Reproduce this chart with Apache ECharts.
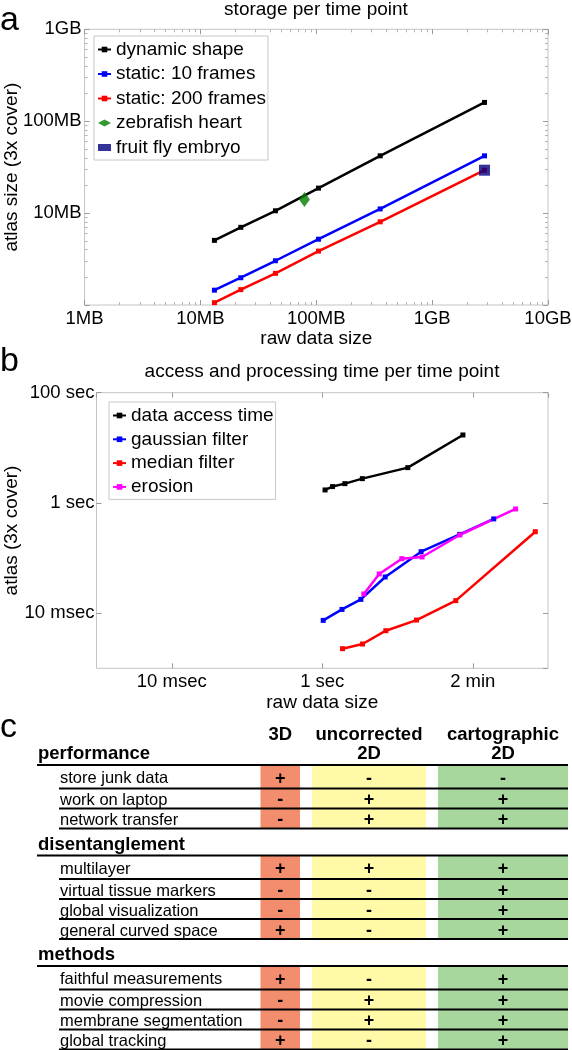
<!DOCTYPE html>
<html><head><meta charset="utf-8">
<script src="https://cdn.jsdelivr.net/npm/echarts@6/dist/echarts.min.js"></script>
<style>html,body{margin:0;padding:0;background:#fff}#c{width:572px;height:1050px}</style>
</head><body><div id="c"></div>
<script>
// ---------- Panel a: storage per time point (MB) ----------
const aSeriesNames = ['dynamic shape', 'static: 10 frames', 'static: 200 frames', 'zebrafish heart', 'fruit fly embryo'];
const aRawSize   = [13.2, 22.3, 44.4, 104.5, 356, 2830];
const aDynamic   = [5.05, 7.0, 10.6, 18.7, 42, 160];
const aStatic10  = [1.45, 1.98, 3.03, 5.2, 11.1, 42];
const aStatic200 = [1.06, 1.47, 2.21, 3.86, 8.04, 29.3];
const zebrafishHeart = [79, 14.1];
const fruitFlyEmbryo = [2830, 29.3];
const aXTickLabels = ['1MB', '10MB', '100MB', '1GB', '10GB'];
const aYTickLabels = ['1MB', '10MB', '100MB', '1GB'];

// ---------- Panel b: access and processing time per time point (sec) ----------
const bSeriesNames = ['data access time', 'gaussian filter', 'median filter', 'erosion'];
const bAccessX  = [1.09, 1.37, 2.0, 3.41, 13.7, 74];
const bAccessY  = [1.72, 1.98, 2.24, 2.76, 4.37, 17.1];
const bGaussX   = [1.03, 1.83, 3.26, 6.86, 20.6, 67, 190];
const bGaussY   = [0.0074, 0.0117, 0.0178, 0.0454, 0.1306, 0.269, 0.513];
const bMedianX  = [1.86, 3.43, 7.0, 17.9, 59.5, 678];
const bMedianY  = [0.00227, 0.00276, 0.00481, 0.0075, 0.0169, 0.301];
const bErosionX = [3.57, 5.71, 11.4, 21.2, 67, 371];
const bErosionY = [0.0223, 0.0515, 0.0975, 0.1047, 0.262, 0.778];
const bXTickLabels = ['10 msec', '1 sec', '2 min'];   // 0.01, 1, 100
const bYTickLabels = ['10 msec', '1 sec', '100 sec']; // 0.01, 1, 100

// ---------- Panel c: comparison table ----------
const tableColumns = ['3D', 'uncorrected\n2D', 'cartographic\n2D'];
const tableGroups = ['performance', 'disentanglement', 'methods'];
const tableRows = [
  ['store junk data', 'work on laptop', 'network transfer'],
  ['multilayer', 'virtual tissue markers', 'global visualization', 'general curved space'],
  ['faithful measurements', 'movie compression', 'membrane segmentation', 'global tracking']
];
const mark3D           = ['+', '-', '-',  '+', '-', '-', '+',  '+', '-', '-', '+'];
const markUncorrected  = ['-', '+', '+',  '+', '-', '-', '-',  '-', '+', '+', '-'];
const markCartographic = ['-', '+', '+',  '+', '+', '+', '+',  '+', '+', '+', '+'];

// ---------- helpers / styling ----------
const FONT = '"Liberation Sans", Arial, Helvetica, sans-serif';
const zip = (xs, ys) => xs.map((x, i) => [x, ys[i]]);
const decLabel = (labels, offset, step) => v => {
  const e = Math.round(Math.log10(v));
  const k = (e + offset) / step;
  return (Number.isInteger(k) && labels[k] !== undefined && Math.abs(Math.log10(v) - e) < 1e-6) ? labels[k] : '';
};
const BORDER = '#c4c4c4';
const TICK = '#9a9a9a';

function logAxis(extra) {
  return Object.assign({
    type: 'log',
    axisLine: { show: false },
    axisTick: { show: true, inside: true, length: 5, lineStyle: { color: TICK, width: 1 } },
    splitLine: { show: false },
    minorSplitLine: { show: false },
    axisLabel: { show: false }
  }, extra);
}
const tickLabel = (fmt, more) => Object.assign({ show: true, fontSize: 18.5, color: '#000', fontFamily: FONT, margin: 4, formatter: fmt }, more || {});
const minor = { show: true, splitNumber: 9, length: 3, lineStyle: { color: '#b5b5b5' } };

// ---------- table layout (layout constants, not data) ----------
const HEAD_H = 27, FIRST_ROW_H = 23.5, ROW_H = 20, TABLE_TOP = 38;
const COLS = [[260.5, 300], [312, 426], [438, 568]];
const COL_FILL = ['#F28D6D', '#FFF9A8', '#A7D79C'];
const rowMarks = [mark3D, markUncorrected, markCartographic];
const layout = [];
(function () {
  let y = TABLE_TOP, r = 0;
  tableGroups.forEach((g, gi) => {
    layout.push({ kind: 'head', gi, y0: y, y1: y + HEAD_H }); y += HEAD_H;
    tableRows[gi].forEach((lbl, k) => {
      const h = k === 0 ? FIRST_ROW_H : ROW_H;
      layout.push({ kind: 'row', gi, r, label: lbl, y0: y, y1: y + h }); y += h; r++;
    });
  });
})();

function renderTable(params, api) {
  const L = layout[params.dataIndex];
  const top = api.coord([0, L.y0])[1];
  const bot = api.coord([0, L.y1])[1];
  const X = v => api.coord([v, 0])[0];
  const ch = [];
  if (L.kind === 'head') {
    ch.push({ type: 'text', z2: 20, style: { text: tableGroups[L.gi], x: X(38), y: bot - 11, align: 'left', verticalAlign: 'middle', font: 'bold 18.5px ' + FONT, fill: '#000' } });
    ch.push({ type: 'line', z2: 10, shape: { x1: X(37), y1: bot, x2: X(568), y2: bot }, style: { stroke: '#000', lineWidth: 2 } });
    if (L.gi === 0) {
      tableColumns.forEach((t, c) => {
        ch.push({ type: 'text', z2: 20, style: { text: t, x: (X(COLS[c][0]) + X(COLS[c][1])) / 2, y: top - 12, align: 'center', verticalAlign: 'top', lineHeight: 18.5, font: 'bold 18.5px ' + FONT, fill: '#000' } });
      });
    }
  } else {
    const mid = (top + bot) / 2;
    COLS.forEach((cs, c) => {
      ch.push({ type: 'rect', z2: 0, shape: { x: X(cs[0]), y: top, width: X(cs[1]) - X(cs[0]), height: bot - top }, style: { fill: COL_FILL[c] } });
      ch.push({ type: 'text', z2: 20, style: { text: rowMarks[c][L.r], x: (X(cs[0]) + X(cs[1])) / 2, y: mid + 2, align: 'center', verticalAlign: 'middle', font: 'bold 18px ' + FONT, fill: '#000' } });
    });
    ch.push({ type: 'text', z2: 20, style: { text: L.label, x: X(60), y: mid + 2, align: 'left', verticalAlign: 'middle', font: '16.5px ' + FONT, fill: '#000' } });
    ch.push({ type: 'line', z2: 10, shape: { x1: X(59), y1: bot, x2: X(568), y2: bot }, style: { stroke: '#000', lineWidth: 2 } });
  }
  return { type: 'group', children: ch };
}

const lineSeries = (name, data, color, xi, yi) => ({
  name, type: 'line', data, xAxisIndex: xi, yAxisIndex: yi,
  symbol: 'rect', symbolSize: 5, showSymbol: true,
  lineStyle: { color, width: 2.5 }, itemStyle: { color },
  emphasis: { disabled: true }, z: 3
});

const option = {
  animation: false,
  backgroundColor: '#fff',
  textStyle: { fontFamily: FONT },
  title: [
    { text: 'storage per time point', left: 316, top: 0, textAlign: 'center', padding: 0, textStyle: { fontSize: 19, fontWeight: 'normal', color: '#000', fontFamily: FONT } },
    { text: 'access and processing time per time point', left: 322, top: 362, textAlign: 'center', padding: 0, textStyle: { fontSize: 19, fontWeight: 'normal', color: '#000', fontFamily: FONT } },
    { text: 'a', left: 0, top: 4, padding: 0, textStyle: { fontSize: 34, fontWeight: 'normal', color: '#000', fontFamily: FONT } },
    { text: 'b', left: 0, top: 345, padding: 0, textStyle: { fontSize: 34, fontWeight: 'normal', color: '#000', fontFamily: FONT } },
    { text: 'c', left: 0, top: 711, padding: 0, textStyle: { fontSize: 34, fontWeight: 'normal', color: '#000', fontFamily: FONT } }
  ],
  legend: [
    {
      data: aSeriesNames, left: 94, top: 36, orient: 'vertical', itemGap: 5.5, itemWidth: 13, itemHeight: 7,
      padding: [4, 2, 3, 3], backgroundColor: '#fff', borderColor: '#c8c8c8', borderWidth: 1, borderRadius: 0,
      textStyle: { fontSize: 19, color: '#000', fontFamily: FONT }, selectedMode: false
    },
    {
      data: bSeriesNames, left: 109, top: 402, orient: 'vertical', itemGap: 4.8, itemWidth: 13, itemHeight: 7,
      padding: [4, 2, 3, 3], backgroundColor: '#fff', borderColor: '#c8c8c8', borderWidth: 1, borderRadius: 0,
      textStyle: { fontSize: 19, color: '#000', fontFamily: FONT }, selectedMode: false
    }
  ],
  grid: [
    { left: 84.6, top: 29.3, width: 463.4, height: 275.7, show: true, borderColor: BORDER, borderWidth: 1, backgroundColor: 'transparent', containLabel: false, outerBoundsMode: 'none' },
    { left: 96.5, top: 392.7, width: 451.5, height: 275.6, show: true, borderColor: BORDER, borderWidth: 1, backgroundColor: 'transparent', containLabel: false, outerBoundsMode: 'none' },
    { left: 0, top: 700, width: 572, height: 350, show: false, containLabel: false, outerBoundsMode: 'none' }
  ],
  xAxis: [
    logAxis({ gridIndex: 0, min: 1, max: 10000, position: 'bottom', minorTick: minor,
      axisLabel: tickLabel(decLabel(aXTickLabels, 0, 1)),
      name: 'raw data size', nameLocation: 'middle', nameGap: 24, nameTextStyle: { fontSize: 19, color: '#000', fontFamily: FONT } }),
    logAxis({ gridIndex: 0, min: 1, max: 10000, position: 'top', minorTick: minor }),
    logAxis({ gridIndex: 1, min: 0.001, max: 1000, logBase: 100, position: 'bottom',
      axisLabel: tickLabel(decLabel(bXTickLabels, 2, 2), { showMinLabel: false, showMaxLabel: false }),
      name: 'raw data size', nameLocation: 'middle', nameGap: 25, nameTextStyle: { fontSize: 19, color: '#000', fontFamily: FONT } }),
    logAxis({ gridIndex: 1, min: 0.001, max: 1000, logBase: 100, position: 'top' }),
    { type: 'value', gridIndex: 2, min: 0, max: 572, show: false }
  ],
  yAxis: [
    logAxis({ gridIndex: 0, min: 1, max: 1000, position: 'left', minorTick: minor,
      axisLabel: tickLabel(decLabel(aYTickLabels, 0, 1), { showMinLabel: false, margin: 3 }),
      name: 'atlas size (3x cover)', nameLocation: 'middle', nameGap: 63, nameMoveOverlap: false,
      nameTextStyle: { fontSize: 19, color: '#000', fontFamily: FONT } }),
    logAxis({ gridIndex: 0, min: 1, max: 1000, position: 'right', minorTick: minor }),
    logAxis({ gridIndex: 1, min: 0.001, max: 100, logBase: 100, position: 'left',
      axisLabel: tickLabel(decLabel(bYTickLabels, 2, 2), { showMinLabel: false, margin: 2 }),
      name: 'atlas (3x cover)', nameLocation: 'middle', nameGap: 75, nameMoveOverlap: false,
      nameTextStyle: { fontSize: 19, color: '#000', fontFamily: FONT } }),
    logAxis({ gridIndex: 1, min: 0.001, max: 100, logBase: 100, position: 'right' }),
    { type: 'value', gridIndex: 2, min: 0, max: 350, inverse: true, show: false }
  ],
  series: [
    lineSeries(aSeriesNames[0], zip(aRawSize, aDynamic), '#000000', 0, 0),
    lineSeries(aSeriesNames[1], zip(aRawSize, aStatic10), '#0000ff', 0, 0),
    lineSeries(aSeriesNames[2], zip(aRawSize, aStatic200), '#ff0000', 0, 0),
    { name: aSeriesNames[3], type: 'scatter', xAxisIndex: 0, yAxisIndex: 0, data: [zebrafishHeart],
      symbol: 'diamond', symbolSize: [11, 15], symbolKeepAspect: true, itemStyle: { color: '#008000' }, emphasis: { disabled: true }, z: 4 },
    { name: aSeriesNames[4], type: 'scatter', xAxisIndex: 0, yAxisIndex: 0, data: [fruitFlyEmbryo],
      symbol: 'rect', symbolSize: 11, symbolKeepAspect: true, itemStyle: { color: '#000080' }, emphasis: { disabled: true }, z: 4 },
    lineSeries(bSeriesNames[0], zip(bAccessX, bAccessY), '#000000', 2, 2),
    lineSeries(bSeriesNames[1], zip(bGaussX, bGaussY), '#0000ff', 2, 2),
    lineSeries(bSeriesNames[2], zip(bMedianX, bMedianY), '#ff0000', 2, 2),
    lineSeries(bSeriesNames[3], zip(bErosionX, bErosionY), '#ff00ff', 2, 2),
    { type: 'custom', xAxisIndex: 4, yAxisIndex: 4, renderItem: renderTable, clip: false,
      data: layout.map((L, i) => [0, L.y0, L.y1, i]), silent: true }
  ]
};

const chart = echarts.init(document.getElementById('c'), null, { renderer: 'canvas', width: 572, height: 1050 });
chart.setOption(option);
</script>
</body></html>
